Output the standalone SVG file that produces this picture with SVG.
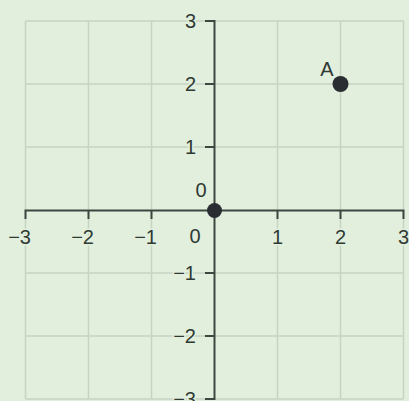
<svg xmlns="http://www.w3.org/2000/svg" width="409" height="401" viewBox="0 0 409 401">
<style>
.grid{stroke:#c6d4c2;stroke-width:1.5;fill:none}
.axis{stroke:#3a4840;stroke-width:2;fill:none}
.lbl{font-family:"Liberation Sans",Arial,sans-serif;font-size:20px;fill:#2f3a33;stroke:#e2efdd;stroke-width:3;paint-order:stroke;stroke-linejoin:round}
.xl{text-anchor:middle}
.yl{text-anchor:end}
.dot{fill:#2a2e33}
</style>
<rect x="0" y="0" width="409" height="401" fill="#e2efdd"/>
<g id="grid" class="grid">
<path d="M25.5 21V399M88.5 21V399M151.5 21V399M277.5 21V399M340.5 21V399M403.5 21V399"/>
<path d="M25.5 21H403.5M25.5 84H403.5M25.5 147H403.5M25.5 273H403.5M25.5 336H403.5M25.5 399H403.5"/>
</g>
<g id="connectors">
<g id="x-axis" class="axis">
<path d="M25.5 219V210.5H403.5V219"/>
<path d="M88.5 210.5V219M151.5 210.5V219M277.5 210.5V219M340.5 210.5V219"/>
</g>
<g id="y-axis" class="axis">
<path d="M205 21H214.5V399H205"/>
<path d="M205 84H214.5M205 147H214.5M205 273H214.5M205 336H214.5"/>
</g>
</g>
<g id="x-labels" class="lbl">
<text class="yl" x="31" y="244">−3</text>
<text class="yl" x="94" y="244">−2</text>
<text class="yl" x="157" y="244">−1</text>
<text class="xl" x="195" y="243">0</text>
<text class="xl" x="277.5" y="244">1</text>
<text class="xl" x="340.5" y="244">2</text>
<text class="xl" x="403.5" y="244">3</text>
</g>
<g id="y-labels" class="lbl">
<text class="yl" x="196" y="28">3</text>
<text class="yl" x="196" y="91">2</text>
<text class="yl" x="196" y="154">1</text>
<text class="yl" x="196" y="280">−1</text>
<text class="yl" x="196" y="343">−2</text>
<text class="yl" x="196" y="406">−3</text>
</g>
<g id="point-O">
<circle class="dot" cx="214.5" cy="210.5" r="7.5"/>
<text class="lbl xl" x="201" y="196.5">0</text>
</g>
<g id="point-A">
<circle class="dot" cx="340.5" cy="84" r="8"/>
<text class="lbl xl" x="327" y="76">A</text>
</g>
</svg>
